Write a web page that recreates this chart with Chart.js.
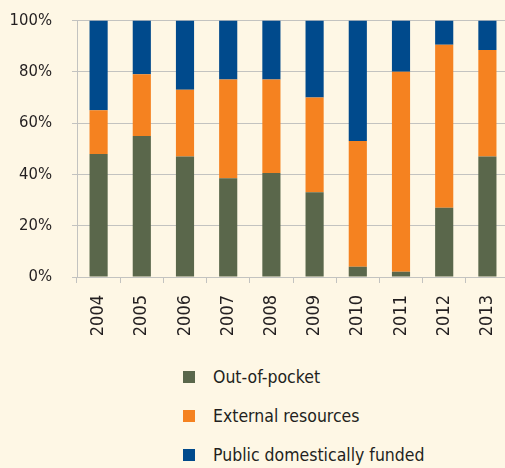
<!DOCTYPE html>
<html>
<head>
<meta charset="utf-8">
<script src="https://cdn.jsdelivr.net/npm/chart.js@4.4.1/dist/chart.umd.min.js"></script>
<style>
    html, body {
        margin: 0;
        padding: 0;
        width: 505px;
        height: 468px;
        overflow: hidden;
        background: #fef7e5;
        font-family: "DejaVu Sans Condensed", "DejaVu Sans", sans-serif;
        color: #231f20;
    }
    #wrap {
        position: absolute;
        left: 0;
        top: 0;
        width: 512px;
        height: 345px;
    }
    #legend {
        position: absolute;
        left: 183px;
        top: 366px;
        font-size: 17.5px;
    }
    .item {
        display: flex;
        align-items: center;
        height: 22px;
        margin-bottom: 17px;
    }
    .box {
        width: 12px;
        height: 12px;
        margin-right: 18px;
    }
</style>
</head>
<body>
<div id="wrap"><canvas id="chart"></canvas></div>
<div id="legend"></div>
<script>
const years = ["2004", "2005", "2006", "2007", "2008", "2009", "2010", "2011", "2012", "2013"];
const outOfPocket = [48, 55, 47, 38.5, 40.5, 33, 4, 2, 27, 47];
const externalResources = [17, 24, 26, 38.5, 36.5, 37, 49, 78, 63.5, 41.5];
const publicDomestic = [35, 21, 27, 23, 23, 30, 47, 20, 9.5, 11.5];
const yTicks = [0, 20, 40, 60, 80, 100];

const seriesNames = ["Out-of-pocket", "External resources", "Public domestically funded"];
const seriesColors = ["#5a674b", "#f58220", "#004a8c"];
const gridColor = "#c3c3c0";
const fontFamily = "'DejaVu Sans Condensed', 'DejaVu Sans', sans-serif";

const makeDataset = (label, data, color) => ({
    label: label,
    data: data,
    backgroundColor: color,
    borderWidth: 0,
    barPercentage: 0.84,
    categoryPercentage: 0.5,
});

const ctx = document.getElementById("chart").getContext("2d");
const chart = new Chart(ctx, {
    type: "bar",
    data: {
        labels: years,
        datasets: [
            makeDataset(seriesNames[0], outOfPocket, seriesColors[0]),
            makeDataset(seriesNames[1], externalResources, seriesColors[1]),
            makeDataset(seriesNames[2], publicDomestic, seriesColors[2]),
        ],
    },
    options: {
        responsive: true,
        maintainAspectRatio: false,
        animation: false,
        layout: {
            padding: { top: 20.5, right: 3, bottom: 0, left: 0 },
        },
        plugins: {
            legend: { display: false },
            tooltip: { enabled: false },
        },
        scales: {
            x: {
                stacked: true,
                border: { color: gridColor, width: 1 },
                grid: {
                    offset: true,
                    drawOnChartArea: false,
                    drawTicks: true,
                    tickLength: 6,
                    color: gridColor,
                },
                ticks: {
                    minRotation: 90,
                    maxRotation: 90,
                    padding: 12,
                    color: "#231f20",
                    font: { family: fontFamily, size: 18 },
                },
                afterFit: (scale) => {
                    scale.height = 68;
                    scale.paddingLeft = 0;
                    scale.paddingRight = 0;
                },
            },
            y: {
                stacked: true,
                min: 0,
                max: 100,
                border: { color: gridColor, width: 1 },
                grid: {
                    color: gridColor,
                    tickLength: 5,
                },
                afterBuildTicks: (scale) => {
                    scale.ticks = yTicks.map((v) => ({ value: v }));
                },
                ticks: {
                    padding: 20,
                    color: "#231f20",
                    font: { family: fontFamily, size: 16.5 },
                    callback: (v) => v + "%",
                },
                afterFit: (scale) => {
                    scale.width = 77;
                    scale.paddingTop = 0;
                    scale.paddingBottom = 0;
                },
            },
        },
    },
});

// legend as a vertical list under the plot
const legendEl = document.getElementById("legend");
chart.data.datasets.forEach((dataset) => {
    const item = document.createElement("div");
    item.className = "item";
    const box = document.createElement("span");
    box.className = "box";
    box.style.background = dataset.backgroundColor;
    const text = document.createElement("span");
    text.textContent = dataset.label;
    item.appendChild(box);
    item.appendChild(text);
    legendEl.appendChild(item);
});
</script>
</body>
</html>
